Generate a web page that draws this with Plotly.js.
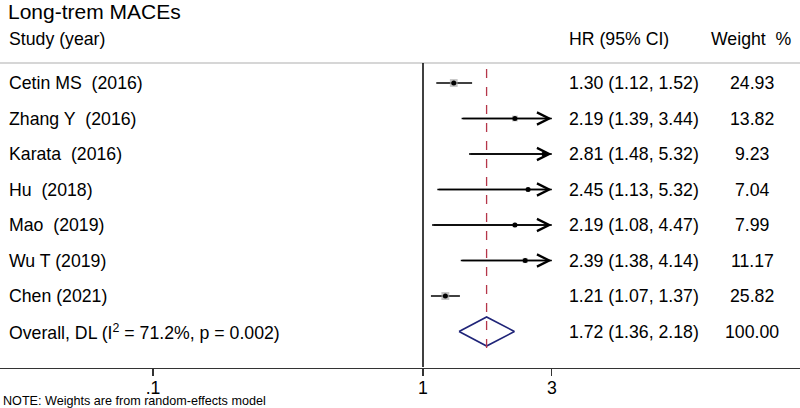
<!DOCTYPE html>
<html>
<head>
<meta charset="utf-8">
<script src="https://cdn.plot.ly/plotly-3.0.1.min.js"></script>
<style>html,body{margin:0;padding:0;background:#fff;}#chart{width:800px;height:408px;}</style>
</head>
<body>
<div id="chart"></div>
<script>
// ---- data ----
const studies = ["Cetin MS\u00a0 (2016)", "Zhang Y\u00a0 (2016)", "Karata\u00a0 (2016)", "Hu\u00a0 (2018)", "Mao\u00a0 (2019)", "Wu T (2019)", "Chen (2021)"];
const hr   = [1.30, 2.19, 2.81, 2.45, 2.19, 2.39, 1.21];
const lo   = [1.12, 1.39, 1.48, 1.13, 1.08, 1.38, 1.07];
const hi   = [1.52, 3.44, 5.32, 5.32, 4.47, 4.14, 1.37];
const wt   = [24.93, 13.82, 9.23, 7.04, 7.99, 11.17, 25.82];
const overallLabel = "Overall, DL (I<sup>2</sup> = 71.2%, p = 0.002)";
const overallHR = 1.72, overallLo = 1.36, overallHi = 2.18, overallWt = 100.00;
const tickVals = [0.1, 1, 3];
const tickText = [".1", "1", "3"];
const clipMax = 3;   // CI display limit (arrows beyond)

// ---- layout helpers ----
const W = 800, H = 408;
const font = "Liberation Sans, Arial, sans-serif";
const rowFont = 17.7;
const n = studies.length;
const fmt = v => v.toFixed(2);
const py = p => 1 - p / H;   // pixel-from-top -> paper

const traces = [];

// CI lines (clipped)
const cx = [], cy = [];
for (let i = 0; i < n; i++) {
  cx.push(lo[i], Math.min(hi[i], clipMax), null);
  cy.push(i, i, null);
}
traces.push({x: cx, y: cy, mode: "lines", line: {color: "#000", width: 1.5}, hoverinfo: "skip"});

// weight boxes
traces.push({x: hr, y: studies.map((_, i) => i), mode: "markers",
  marker: {symbol: "square", color: "#a6a6a6", size: wt.map(w => 1.55 * Math.sqrt(w)), line: {width: 0}}, hoverinfo: "skip"});
// point estimates
traces.push({x: hr, y: studies.map((_, i) => i), mode: "markers",
  marker: {symbol: "circle", color: "#000", size: 5}, hoverinfo: "skip"});

// overall diamond
const dh = 0.41;
traces.push({x: [overallLo, overallHR, overallHi, overallHR, overallLo],
  y: [n, n - dh, n, n + dh, n], mode: "lines", fill: "none",
  line: {color: "#1f2478", width: 1.6}, hoverinfo: "skip"});

const annotations = [];
// title & headers
annotations.push({text: "Long-trem MACEs", xref: "paper", yref: "paper", x: 6 / W, y: py(11), xanchor: "left", yanchor: "middle", showarrow: false, font: {family: font, size: 21, color: "#000"}});
annotations.push({text: "Study (year)", xref: "paper", yref: "paper", x: 7 / W, y: py(39.5), xanchor: "left", yanchor: "middle", showarrow: false, font: {family: font, size: rowFont, color: "#000"}});
annotations.push({text: "HR (95% CI)", xref: "paper", yref: "paper", x: 567 / W, y: py(39.5), xanchor: "left", yanchor: "middle", showarrow: false, font: {family: font, size: rowFont, color: "#000"}});
annotations.push({text: "Weight\u00a0 %", xref: "paper", yref: "paper", x: 709 / W, y: py(39.5), xanchor: "left", yanchor: "middle", showarrow: false, font: {family: font, size: rowFont, color: "#000"}});

const labels = studies.concat([overallLabel]);
const hrs = hr.concat([overallHR]), los = lo.concat([overallLo]), his = hi.concat([overallHi]), wts = wt.concat([overallWt]);
labels.forEach((lab, i) => {
  annotations.push({text: lab, xref: "paper", yref: "y", x: 7 / W, y: i, xanchor: "left", yanchor: "middle", showarrow: false, font: {family: font, size: rowFont, color: "#000"}});
  annotations.push({text: `${fmt(hrs[i])} (${fmt(los[i])}, ${fmt(his[i])})`, xref: "paper", yref: "y", x: 567 / W, y: i, xanchor: "left", yanchor: "middle", showarrow: false, font: {family: font, size: rowFont, color: "#000"}});
  annotations.push({text: fmt(wts[i]), xref: "paper", yref: "y", x: 752 / W, y: i, xanchor: "center", yanchor: "middle", showarrow: false, font: {family: font, size: rowFont, color: "#000"}});
});

// arrowheads for clipped CIs
for (let i = 0; i < n; i++) {
  if (hi[i] > clipMax) {
    annotations.push({x: Math.log10(clipMax), y: i, xref: "x", yref: "y", ax: Math.log10(lo[i]), ay: i, axref: "x", ayref: "y",
      text: "", showarrow: true, arrowhead: 5, arrowsize: 1.6, arrowwidth: 1.5, arrowcolor: "#000", standoff: 0, startstandoff: 0});
  }
}

// note
annotations.push({text: "NOTE: Weights are from random-effects model", xref: "paper", yref: "paper", x: 1 / W, y: py(400.5), xanchor: "left", yanchor: "middle", showarrow: false, font: {family: font, size: 12.6, color: "#000"}});

const shapes = [
  {type: "line", xref: "paper", yref: "paper", x0: 0, x1: 1, y0: py(63), y1: py(63), line: {color: "#c8c8c8", width: 1.5}},
  {type: "line", xref: "x", yref: "paper", x0: 1, x1: 1, y0: py(367), y1: py(63), line: {color: "#000", width: 1.5}},
  {type: "line", xref: "x", yref: "paper", x0: overallHR, x1: overallHR, y0: py(348), y1: py(63), line: {color: "#b5364a", width: 1.3, dash: "dash"}}
];

const pxPerDecade = 270, xOne = 423;
const layout = {
  width: W, height: H,
  margin: {l: 0, r: 0, t: 0, b: 0},
  paper_bgcolor: "#fff", plot_bgcolor: "#fff",
  showlegend: false,
  xaxis: {type: "log", range: [-xOne / pxPerDecade, (W - xOne) / pxPerDecade], domain: [0, 1],
    anchor: "free", position: py(367.5),
    showgrid: false, zeroline: false, showline: true, linecolor: "#333", linewidth: 1.5,
    ticks: "outside", ticklen: 7, tickwidth: 1.2, tickcolor: "#333", ticklabelstandoff: -3,
    tickmode: "array", tickvals: tickVals, ticktext: tickText,
    tickfont: {family: font, size: rowFont, color: "#000"}, fixedrange: true},
  yaxis: {range: [(H - 83) / 35.5, -83 / 35.5], domain: [0, 1], visible: false, showgrid: false, zeroline: false, fixedrange: true},
  annotations: annotations,
  shapes: shapes,
  hovermode: false
};

Plotly.newPlot("chart", traces, layout, {displayModeBar: false, staticPlot: true});
</script>
</body>
</html>
